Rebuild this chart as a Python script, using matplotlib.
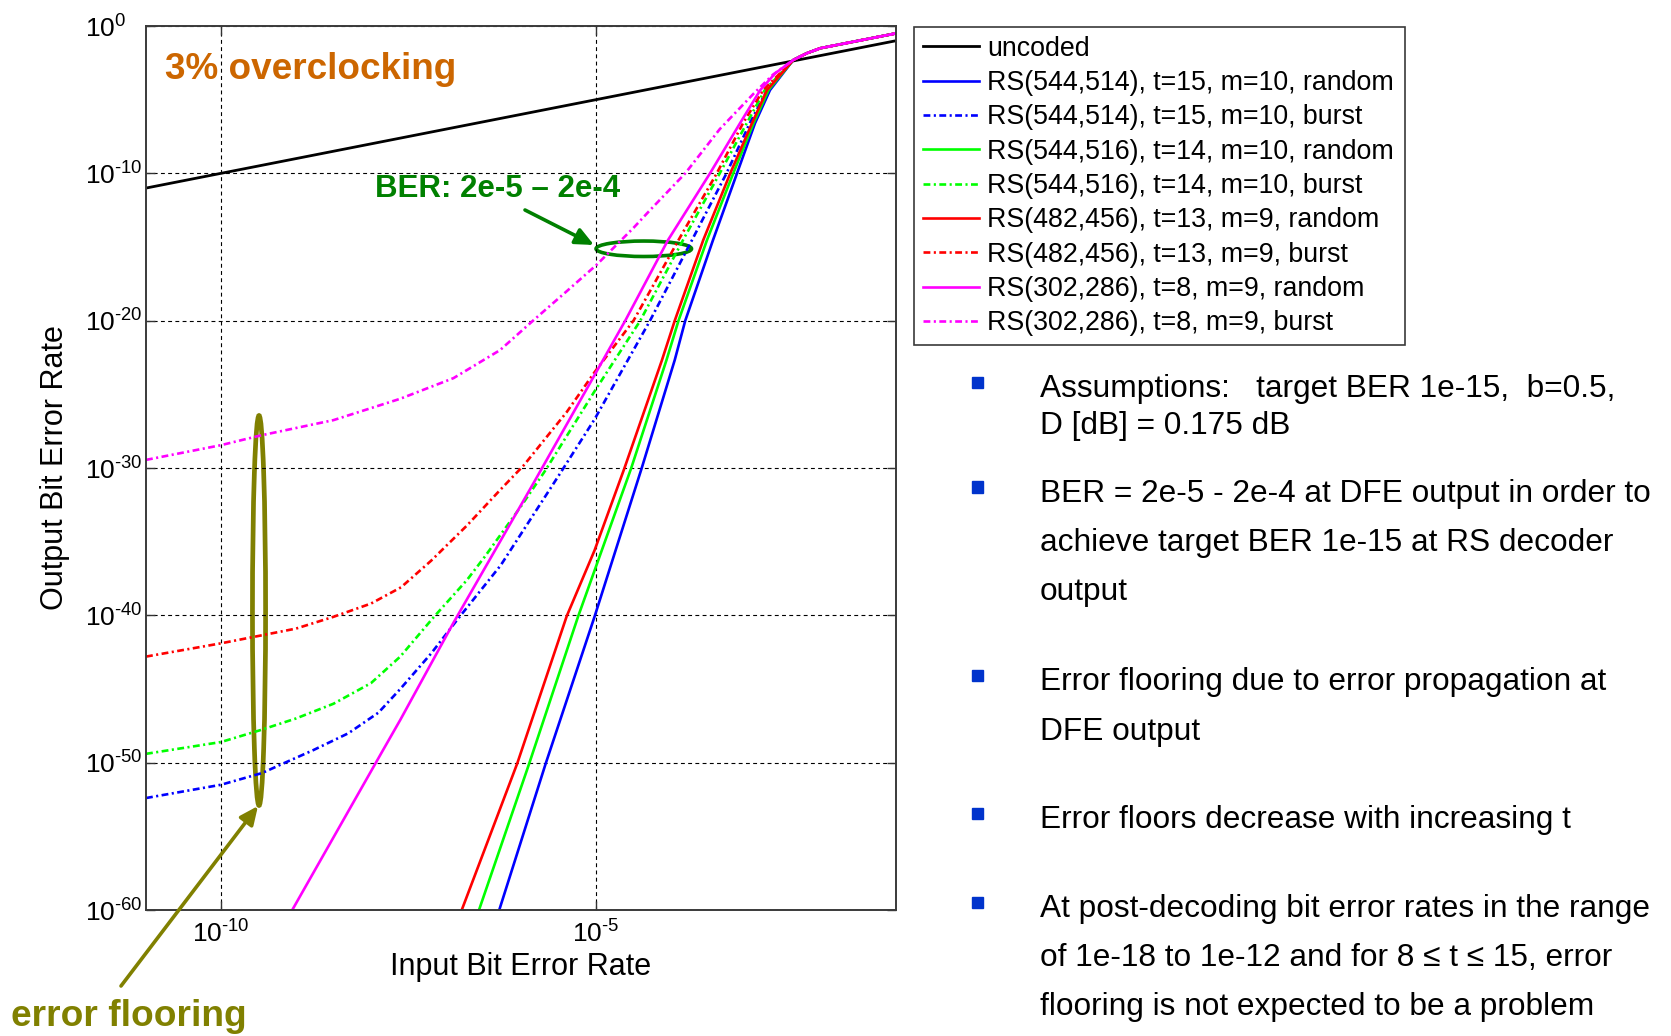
import matplotlib.pyplot as plt
import numpy as np
from matplotlib.patches import Ellipse, FancyArrowPatch, Rectangle

plt.rcParams['font.family'] = ['Liberation Sans', 'DejaVu Sans']
plt.rcParams['mathtext.fontset'] = 'custom'
plt.rcParams['mathtext.rm'] = 'Liberation Sans'
plt.rcParams['mathtext.default'] = 'regular'

# BER curves as log10 exponents: input BER -> output BER after RS decoding
uncoded_in = [-11.0, -1.0]
uncoded_out = [-11.0, -1.0]

# saturation region shared by all coded curves at high input BER
sat_in = [-2.37, -2.19, -2.01, -1.0]
sat_out = [-2.31, -1.85, -1.51, -0.5]

rs544_514_rnd_in = [-6.29, -5.67, -5.02, -4.39, -3.95, -3.81, -3.44, -3.12, -2.88, -2.68]
rs544_514_rnd_out = [-60.0, -50.05, -40.1, -30.0, -22.67, -20.0, -14.53, -10.0, -6.6, -4.35]
rs544_514_bst_in = [-11.0, -10.0, -9.45, -9.19, -8.77, -8.3, -7.9, -7.61, -7.2, -6.85, -6.27,
                    -5.47, -5.02, -4.28, -3.72, -3.26, -2.95, -2.72]
rs544_514_bst_out = [-52.4, -51.5, -50.7, -50.1, -49.15, -48.0, -46.6, -45.0, -42.6, -40.3, -36.6,
                     -30.3, -26.7, -20.0, -14.53, -10.0, -6.6, -4.35]

rs544_516_rnd_in = [-6.56, -5.89, -5.24, -4.53, -4.06, -3.90, -3.52, -3.17, -2.90, -2.70]
rs544_516_rnd_out = [-60.0, -50.05, -40.1, -30.0, -22.67, -20.0, -14.53, -10.0, -6.6, -4.35]
rs544_516_bst_in = [-11.0, -10.0, -9.48, -9.0, -8.5, -8.0, -7.61, -7.16, -6.72, -6.48, -6.0,
                    -5.68, -5.02, -4.41, -3.84, -3.35, -2.99, -2.75]
rs544_516_bst_out = [-49.4, -48.6, -47.8, -47.0, -46.0, -44.6, -42.8, -40.1, -37.6, -36.0, -32.6,
                     -30.2, -24.8, -20.0, -14.53, -10.0, -6.6, -4.35]

rs482_456_rnd_in = [-6.79, -6.05, -5.39, -5.02, -4.62, -4.12, -3.95, -3.57, -3.21, -2.92, -2.72]
rs482_456_rnd_out = [-60.0, -50.05, -40.05, -35.6, -30.0, -22.67, -20.0, -14.53, -10.0, -6.6, -4.35]
rs482_456_bst_in = [-11.0, -10.0, -9.0, -8.5, -8.0, -7.6, -7.2, -6.72, -6.28, -5.96, -5.39,
                    -5.02, -4.50, -3.90, -3.39, -3.04, -2.77]
rs482_456_bst_out = [-42.8, -41.9, -40.9, -40.1, -39.2, -38.1, -36.3, -33.9, -31.5, -29.8, -26.2,
                     -23.5, -20.0, -14.53, -10.0, -6.6, -4.35]

rs302_286_rnd_in = [-9.05, -7.84, -7.61, -6.90, -6.28, -5.83, -5.02, -4.61, -4.04, -3.48, -3.08,
                    -2.81, -2.61]
rs302_286_rnd_out = [-60.0, -49.15, -47.1, -40.5, -35.0, -31.0, -23.7, -20.0, -14.53, -10.0, -6.6,
                     -4.35, -3.21]
rs302_286_bst_in = [-11.0, -10.0, -9.48, -8.5, -7.61, -6.9, -6.28, -5.84, -5.39, -4.99, -4.5,
                    -4.28, -3.81, -3.35, -2.90, -2.64]
rs302_286_bst_out = [-29.45, -28.45, -27.8, -26.75, -25.3, -23.9, -22.0, -20.0, -18.0, -16.2, -13.7,
                     -12.5, -10.0, -7.0, -4.6, -3.3]

series_labels = [
    "RS(544,514), t=15, m=10, random",
    "RS(544,514), t=15, m=10, burst",
    "RS(544,516), t=14, m=10, random",
    "RS(544,516), t=14, m=10, burst",
    "RS(482,456), t=13, m=9, random",
    "RS(482,456), t=13, m=9, burst",
    "RS(302,286), t=8, m=9, random",
    "RS(302,286), t=8, m=9, burst",
]
series_data = [
    (rs544_514_rnd_in, rs544_514_rnd_out),
    (rs544_514_bst_in, rs544_514_bst_out),
    (rs544_516_rnd_in, rs544_516_rnd_out),
    (rs544_516_bst_in, rs544_516_bst_out),
    (rs482_456_rnd_in, rs482_456_rnd_out),
    (rs482_456_bst_in, rs482_456_bst_out),
    (rs302_286_rnd_in, rs302_286_rnd_out),
    (rs302_286_bst_in, rs302_286_bst_out),
]
series_colors = ['#0000ff', '#0000ff', '#00ff00', '#00ff00',
                 '#ff0000', '#ff0000', '#ff00ff', '#ff00ff']

# decade labels written with a short hyphen in the exponent
x_ticks = [1e-10, 1e-5]
x_tick_labels = ['$10^{\u201010}$', '$10^{\u20105}$']
y_ticks = [1e-60, 1e-50, 1e-40, 1e-30, 1e-20, 1e-10, 1e0]
y_tick_labels = ['$10^{\u201060}$', '$10^{\u201050}$', '$10^{\u201040}$', '$10^{\u201030}$',
                 '$10^{\u201020}$', '$10^{\u201010}$', '$10^{0}$']

bullets = [
    ["Assumptions:   target BER 1e-15,  b=0.5,", "D [dB] = 0.175 dB"],
    ["BER = 2e-5 - 2e-4 at DFE output in order to",
     "achieve target BER 1e-15 at RS decoder", "output"],
    ["Error flooring due to error propagation at", "DFE output"],
    ["Error floors decrease with increasing t"],
    ["At post-decoding bit error rates in the range",
     "of 1e-18 to 1e-12 and for 8 \u2264 t \u2264 15, error",
     "flooring is not expected to be a problem"],
]

W, H = 1671, 1036


def fx(px):
    return px / W


def fy(py):
    return 1.0 - py / H


def ber(exps):
    return np.power(10.0, np.asarray(exps, dtype=float))


fig = plt.figure(figsize=(W / 100, H / 100), dpi=100, facecolor='white')
ax = fig.add_axes([fx(146), fy(910), 750 / W, 884 / H])

dashdot = (0, (2.6, 1.3, 0.8, 1.3))
handles = []
h, = ax.plot(ber(uncoded_in), ber(uncoded_out), color='black', lw=2.0, label='uncoded')
handles.append(h)
for i, (xin, yout) in enumerate(series_data):
    ls = '-' if i % 2 == 0 else dashdot
    h, = ax.plot(ber(list(xin) + sat_in), ber(list(yout) + sat_out),
                 color=series_colors[i], lw=1.9, linestyle=ls, label=series_labels[i])
    handles.append(h)

ax.set_xscale('log')
ax.set_yscale('log')
ax.set_xlim(1e-11, 1e-1)
ax.set_ylim(1e-60, 1e0)
ax.set_xticks(x_ticks, x_tick_labels, fontsize=19)
ax.set_yticks(y_ticks, y_tick_labels, fontsize=19, ha='left')
ax.minorticks_off()
ax.tick_params(direction='in', length=6.5, width=1.0, color='#333333',
               top=True, right=True)
ax.tick_params(axis='y', pad=44)
ax.tick_params(axis='x', pad=7.5)
ax.grid(True, which='major', color='black', linestyle=(0, (3.5, 3)), linewidth=0.8)
for sp in ax.spines.values():
    sp.set_color('#3a3a3a')
    sp.set_linewidth(1.4)

ax.set_xlabel('Input Bit Error Rate', fontsize=22)
ax.set_ylabel('Output Bit Error Rate', fontsize=22)
ax.xaxis.set_label_coords(0.5, -0.047)
ax.yaxis.set_label_coords(-0.101, 0.5)

leg = ax.legend(handles=handles, loc='upper left',
                bbox_to_anchor=(fx(914), fy(343), (1405 - 914) / W, (343 - 27) / H),
                bbox_transform=fig.transFigure, mode='expand', borderaxespad=0,
                fontsize=19.3, handlelength=2.1, handletextpad=0.3, borderpad=0.33,
                labelspacing=0.31, fancybox=False, framealpha=1, shadow=False)
leg.get_frame().set_edgecolor('#3a3a3a')
leg.get_frame().set_linewidth(1.2)

# annotations on the plot
fig.text(fx(165), fy(79), '3% overclocking', color='#cc6600', fontsize=26.6,
         fontweight='bold', va='baseline')
fig.text(fx(375), fy(197), 'BER: 2e-5 \u2013 2e-4', color='#008000', fontsize=22.5,
         fontweight='bold', va='baseline')
fig.text(fx(11), fy(1026), 'error flooring', color='#808000', fontsize=26.7,
         fontweight='bold', va='baseline')

ax.add_patch(Ellipse((0.6637, 0.748), 0.1273, 0.0175, transform=ax.transAxes,
                     fill=False, edgecolor='#008000', lw=2.6, clip_on=False))
ax.add_patch(Ellipse((0.1507, 0.3388), 0.0175, 0.441, transform=ax.transAxes,
                     fill=False, edgecolor='#808000', lw=3.4, clip_on=False))

fig.add_artist(FancyArrowPatch((fx(525), fy(210)), (fx(594), fy(245)),
                               transform=fig.transFigure, color='#008000', lw=2.6,
                               arrowstyle='-|>,head_length=11,head_width=5',
                               shrinkA=0, shrinkB=0))
fig.add_artist(FancyArrowPatch((fx(121), fy(986)), (fx(258), fy(806)),
                               transform=fig.transFigure, color='#808000', lw=2.6,
                               arrowstyle='-|>,head_length=11,head_width=5',
                               shrinkA=0, shrinkB=0))

# bullet list on the right
first_baselines = [397, 502, 690, 828, 917]
line_steps = [36.5, 49.2, 50, 50, 49.2]
for lines, y0, step in zip(bullets, first_baselines, line_steps):
    fig.add_artist(Rectangle((fx(971.5), fy(y0 - 9.5)), 11 / W, 11 / H,
                             transform=fig.transFigure, color='#0033cc'))
    for k, line in enumerate(lines):
        fig.text(fx(1040), fy(y0 + k * step), line, fontsize=22.8, va='baseline')

fig.savefig('out.png', dpi=100, facecolor='white')
